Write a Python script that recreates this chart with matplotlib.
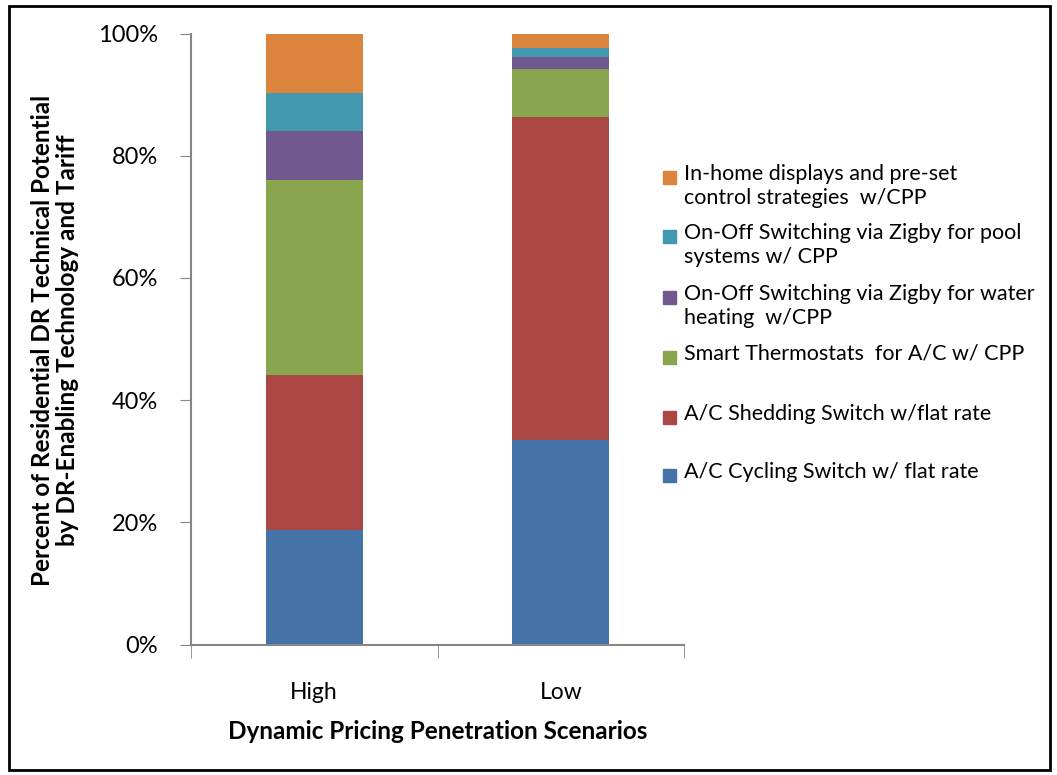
import matplotlib
matplotlib.use("Agg")
import matplotlib.pyplot as plt
from matplotlib.patches import Rectangle
from matplotlib.ticker import FuncFormatter

plt.rcParams["font.family"] = ["Lato", "DejaVu Sans"]

scenarios = ["High", "Low"]
# percent shares, bottom to top
cycling = [18.8, 33.4]
shedding = [25.3, 52.9]
thermostats = [32.0, 7.9]
water_heat = [7.9, 1.9]
pool = [6.3, 1.5]
displays = [9.7, 2.4]

series = [cycling, shedding, thermostats, water_heat, pool, displays]
labels = [
    "A/C Cycling Switch w/ flat rate",
    "A/C Shedding Switch w/flat rate",
    "Smart Thermostats  for A/C w/ CPP",
    "On-Off Switching via Zigby for water\nheating  w/CPP",
    "On-Off Switching via Zigby for pool\nsystems w/ CPP",
    "In-home displays and pre-set\ncontrol strategies  w/CPP",
]
colors = ["#4572A7", "#AA4643", "#89A54E", "#71588F", "#4198AF", "#DB843D"]

W, H = 1057, 775
fig = plt.figure(figsize=(W / 100, H / 100), dpi=100)
ax = fig.add_axes([191 / W, 1 - 644.5 / H, (684 - 191) / W, (644.5 - 33.5) / H])

x = range(len(scenarios))
bottom = [0.0] * len(scenarios)
for vals, col in zip(series, colors):
    ax.bar(x, vals, width=0.395, bottom=bottom, color=col, edgecolor="none")
    bottom = [b + v for b, v in zip(bottom, vals)]

ax.set_xlim(-0.5, 1.5)
ax.set_ylim(0, 100)
ax.set_yticks([0, 20, 40, 60, 80, 100])
ax.yaxis.set_major_formatter(FuncFormatter(lambda v, p: f"{v:.0f}%"))
ax.set_xticks([0, 1])
ax.set_xticklabels(scenarios)
ax.set_xticks([-0.5, 0.5, 1.5], minor=True)
ax.tick_params(axis="x", which="major", length=0, pad=27, labelsize=16.5)
ax.tick_params(axis="x", which="minor", length=9, color="#868686", direction="out")
ax.tick_params(axis="y", length=8, color="#868686", direction="out", pad=16, labelsize=17)
for s in ["top", "right"]:
    ax.spines[s].set_visible(False)
for s in ["left", "bottom"]:
    ax.spines[s].set_color("#868686")
    ax.spines[s].set_linewidth(1.5)

ax.set_xlabel("Dynamic Pricing Penetration Scenarios", fontsize=17.5, fontweight="bold", labelpad=12)
fig.text(55 / W, 1 - 340 / H,
         "Percent of Residential DR Technical Potential\nby DR-Enabling Technology and Tariff",
         rotation=90, ha="center", va="center", fontsize=17.5, fontweight="bold", linespacing=1.1)

# legend, top entry first
ys = [177, 236, 297, 357, 417, 475]
for yy, lab, col in zip(ys, labels[::-1], colors[::-1]):
    fig.patches.append(Rectangle((663 / W, 1 - (yy + 6.5) / H), 13 / W, 13 / H,
                                 transform=fig.transFigure, color=col))
    fig.text(684 / W, 1 - (yy - 13) / H, lab, ha="left", va="top", fontsize=15.5,
             linespacing=1.25)

fig.patches.append(Rectangle((9 / W, 1 - 770 / H), 1041 / W, 764 / H, transform=fig.transFigure,
                             fill=False, ec="black", lw=2))

fig.savefig("out.png", dpi=100, facecolor="white")
